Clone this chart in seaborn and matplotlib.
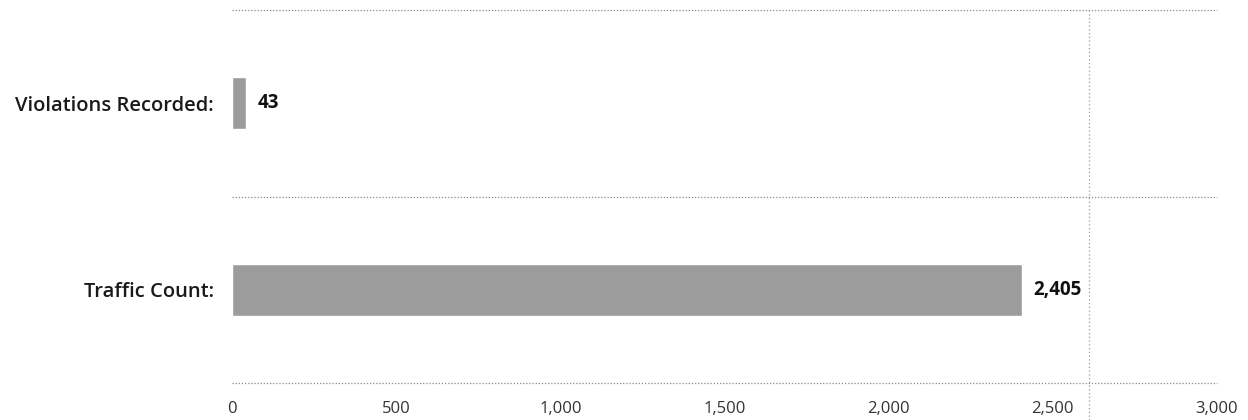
import matplotlib
matplotlib.use("Agg")
import matplotlib.pyplot as plt
import seaborn as sns
import pandas as pd

# values
categories = ["Violations Recorded:", "Traffic Count:"]
counts = [43, 2405]
x_ticks = [0, 500, 1000, 1500, 2000, 2500, 3000]

sns.set_theme(style="white")
plt.rcParams["font.family"] = ["Open Sans", "DejaVu Sans"]

df = pd.DataFrame({"category": categories, "count": counts})

fig = plt.figure(figsize=(12.48, 4.2), dpi=100)
ax = fig.add_axes([0.186, 0.088, 0.789, 0.888])

sns.barplot(data=df, y="category", x="count", order=categories,
            color="#9c9c9c", width=0.28, saturation=1, ax=ax)

ax.set_xlim(0, 3000)
ax.set_ylim(1.5, -0.5)
ax.set_xticks(x_ticks)
ax.set_xticklabels([f"{t:,}" for t in x_ticks], fontsize=12, color="#333333")
ax.set_xlabel("")
ax.set_ylabel("")
ax.tick_params(axis="y", labelsize=14.5, length=0, pad=13)
ax.tick_params(axis="x", length=0, pad=13)
for lab in ax.get_yticklabels():
    lab.set_fontweight("semibold")
    lab.set_color("#1a1a1a")

# dotted borders between category bands
for sp in ax.spines.values():
    sp.set_visible(False)
for yb in [-0.5, 0.5, 1.5]:
    ax.axhline(yb, color="#8a8a8a", linestyle=(0, (1, 1.5)), linewidth=0.9,
               clip_on=False)

# faint dotted scan line crossing the plot
ax.axvline(2610, ymin=-0.1, ymax=1.0, color="#9a9a9a", linestyle=(0, (1, 2)),
           linewidth=0.9, clip_on=False)

# value labels
for i, v in enumerate(counts):
    ax.text(v + 35, i, f"{v:,}", va="center", ha="left", fontsize=13.5,
            fontweight="bold", color="#111111")

fig.savefig("out.png", dpi=100)
